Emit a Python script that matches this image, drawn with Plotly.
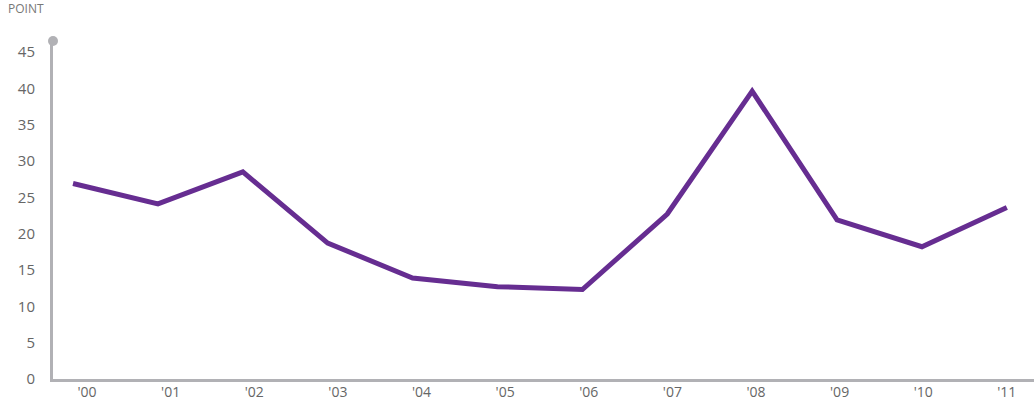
import plotly.graph_objects as go

# Annual point values, 2000-2011
years = ["'00", "'01", "'02", "'03", "'04", "'05", "'06", "'07", "'08", "'09", "'10", "'11"]
points = [26.9, 24.1, 28.5, 18.7, 13.9, 12.7, 12.3, 22.7, 39.6, 21.9, 18.2, 23.6]
y_ticks = [0, 5, 10, 15, 20, 25, 30, 35, 40, 45]

AXIS_GREY = "#b1b1b5"
TEXT_GREY = "#666666"
PURPLE = "#662d91"
FONT = "Open Sans"

idx = list(range(len(years)))
# year labels sit slightly right of each data point, drifting back toward it across the axis
label_pos = [i + 0.165 - i * 0.015 for i in idx]

fig = go.Figure()
fig.add_trace(go.Scatter(
    x=idx, y=points, mode="lines",
    line=dict(color=PURPLE, width=5, shape="linear"),
    hoverinfo="skip", showlegend=False,
))

fig.update_layout(
    width=1034, height=401,
    margin=dict(l=53, r=0, t=41, b=22),
    paper_bgcolor="white", plot_bgcolor="white",
    font=dict(family=FONT, color=TEXT_GREY, size=15),
    xaxis=dict(
        range=[-0.236, 11.32],
        tickvals=label_pos, ticktext=years,
        showgrid=False, zeroline=False,
        showline=True, linecolor=AXIS_GREY, linewidth=3,
        ticks="", tickfont=dict(size=14, color=TEXT_GREY),
        ticklabelstandoff=-2, automargin=False,
    ),
    yaxis=dict(
        range=[0, 46.5],
        tickvals=y_ticks,
        showgrid=False, zeroline=False,
        showline=True, linecolor=AXIS_GREY, linewidth=3,
        ticks="", tickfont=dict(size=15, color=TEXT_GREY),
        ticklabelstandoff=12, automargin=False,
    ),
    annotations=[dict(
        text="POINT", xref="paper", yref="paper",
        x=0, y=1, xanchor="left", yanchor="bottom",
        xshift=-47, yshift=22,
        showarrow=False, font=dict(size=12, color="#777777", family=FONT),
    )],
    shapes=[dict(
        type="circle", xref="paper", yref="paper",
        xsizemode="pixel", ysizemode="pixel",
        xanchor=0, yanchor=1,
        x0=-5, x1=5, y0=-5, y1=5,
        fillcolor=AXIS_GREY, line=dict(width=0),
    )],
)

fig.write_html("out.html")
